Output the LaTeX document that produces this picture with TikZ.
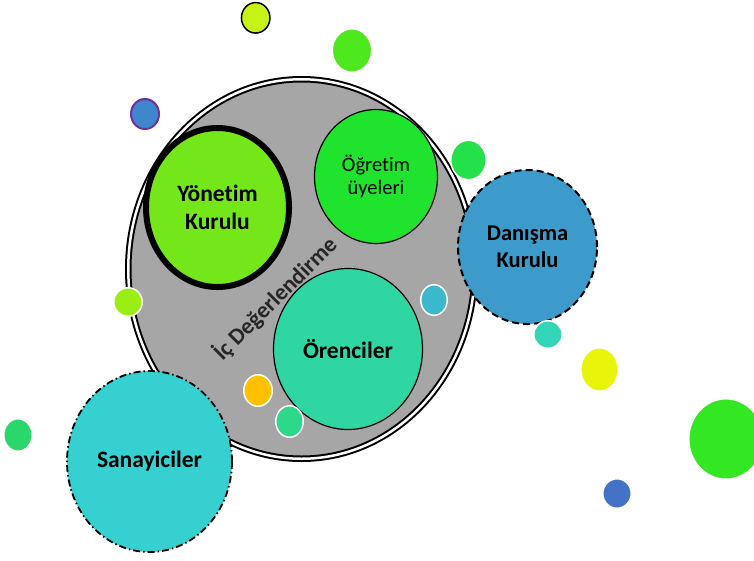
\documentclass[tikz,border=0pt]{standalone}
\usepackage{fontspec}
\setmainfont{Carlito}[Ligatures=NoCommon]
\usetikzlibrary{shapes.geometric}

\definecolor{icgray}{HTML}{A6A6A6}
\definecolor{yonetimgreen}{HTML}{74E71A}
\definecolor{ogretimgreen}{HTML}{20E32D}
\definecolor{orencigreen}{HTML}{30D6A2}
\definecolor{danismablue}{HTML}{3D9BCB}
\definecolor{sanayicyan}{HTML}{36D0D0}
\definecolor{labelgray}{HTML}{262626}
\definecolor{dotpurple}{HTML}{7030A0}

\begin{document}
\begin{tikzpicture}[x=1pt,y=-1pt,
    blob/.style={ellipse,inner sep=0pt,align=center,text=black},
    member/.style={blob,draw=black,line width=1.2pt},
    bigtext/.style={font=\fontsize{23.5}{28}\selectfont\bfseries},
    dot/.style={ellipse,inner sep=0pt,draw=white,line width=1.5pt}]
   \clip (0,0) rectangle (754,560);
   % ic degerlendirme
   \node[blob,fill=icgray,draw=black,line width=2pt,double=white,double distance=2.5pt,
         minimum width=346.5pt,minimum height=379.5pt] (ic) at (301.5,269) {};
   \node[blob,fill=yonetimgreen,draw=black,line width=6pt,bigtext,
         minimum width=143pt,minimum height=159pt] (yonetim) at (217.5,207.5) {Yönetim\\Kurulu};
   \node[member,fill=ogretimgreen,font=\fontsize{20.5}{23}\selectfont,
         minimum width=123pt,minimum height=134pt] (ogretim) at (376,176.5) {Öğretim\\üyeleri};
   \node[member,fill=orencigreen,bigtext,
         minimum width=149pt,minimum height=161pt] (orenci) at (348,349) {Örenciler};
   \node[rotate=45,text=labelgray,font=\fontsize{23}{28}\selectfont\bfseries] (iclabel) at (275,298.5) {İç Değerlendirme};
   % dis paydaslar
   \node[blob,fill=sanayicyan,draw=black,line width=1.8pt,
         dash pattern=on 7pt off 3pt on 1.5pt off 3pt,bigtext,
         minimum width=165pt,minimum height=181pt] (sanayi) at (149.5,461.5) {Sanayiciler};
   \node[blob,fill=danismablue,draw=black,line width=2pt,dashed,
         dash pattern=on 7pt off 4pt,font=\fontsize{22.5}{27}\selectfont\bfseries,
         minimum width=139pt,minimum height=154pt] (danisma) at (527.5,247) {Danışma\\Kurulu};
   % kucuk daireler
   \node[dot,fill={rgb,255:red,198;green,242;blue,21},draw=black,minimum width=28.5pt,minimum height=30.5pt] (d1) at (255.7,17.8) {};
   \node[dot,fill={rgb,255:red,78;green,232;blue,30},minimum width=39.5pt,minimum height=43.5pt] (d2) at (352,50.5) {};
   \node[dot,fill={rgb,255:red,63;green,134;blue,204},draw=dotpurple,line width=2pt,minimum width=28pt,minimum height=30pt] (d3) at (145,114) {};
   \node[dot,fill={rgb,255:red,36;green,224;blue,74},minimum width=35.5pt,minimum height=39.5pt] (d4) at (468.5,160) {};
   \node[dot,fill={rgb,255:red,154;green,238;blue,20},minimum width=28.5pt,minimum height=28.5pt] (d5) at (128,302) {};
   \node[dot,fill={rgb,255:red,59;green,184;blue,204},minimum width=26.5pt,minimum height=30.5pt] (d6) at (434,300) {};
   \node[dot,fill={rgb,255:red,51;green,214;blue,184},minimum width=28.5pt,minimum height=27.5pt] (d7) at (548,334.5) {};
   \node[dot,fill={rgb,255:red,232;green,245;blue,10},minimum width=37.5pt,minimum height=43.5pt] (d8) at (599.5,369.5) {};
   \node[dot,fill={rgb,255:red,51;green,232;blue,34},minimum width=74.5pt,minimum height=80.5pt] (d9) at (726,439) {};
   \node[dot,fill={rgb,255:red,68;green,114;blue,196},minimum width=28.5pt,minimum height=29.5pt] (d10) at (617,493.5) {};
   \node[dot,fill={rgb,255:red,43;green,214;blue,106},minimum width=28.5pt,minimum height=32.5pt] (d11) at (18,435) {};
   \node[dot,fill={rgb,255:red,255;green,192;blue,0},minimum width=28.5pt,minimum height=31.5pt] (d12) at (258,390.5) {};
   \node[dot,fill={rgb,255:red,46;green,216;blue,138},minimum width=27.5pt,minimum height=31.5pt] (d13) at (289.5,421.5) {};
\end{tikzpicture}
\end{document}
